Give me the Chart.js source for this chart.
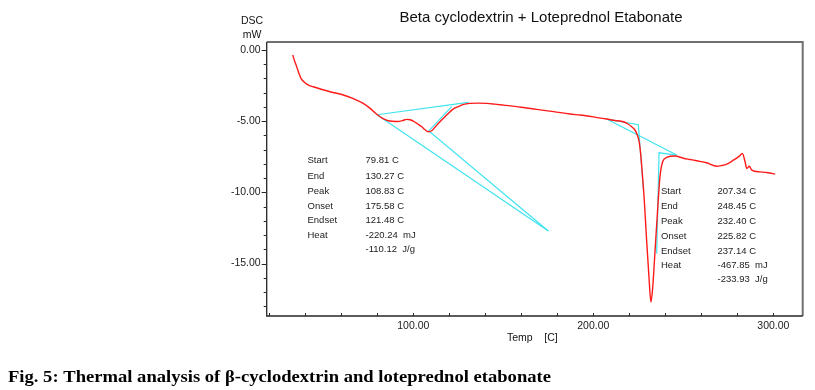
<!DOCTYPE html>
<html>
<head>
<meta charset="utf-8">
<script src="https://cdn.jsdelivr.net/npm/chart.js@4/dist/chart.umd.min.js"></script>
<style>
  html, body { margin: 0; padding: 0; background: #ffffff; }
  #wrap { width: 815px; height: 390px; }
</style>
</head>
<body>
<div id="wrap"><canvas id="c" width="815" height="390"></canvas></div>
<script>
// ---- Data ----
const tempC = [33.0, 34.0, 35.2, 36.5, 37.6, 39.8, 42.0, 44.4, 48.0, 51.9, 56.0, 61.1, 66.0, 72.2, 76.0, 80.2, 83.0, 86.1, 90.8, 94.0, 96.3, 98.2, 100.0, 102.5, 104.7, 106.5, 108.3, 110.2, 112.5, 114.8, 117.5, 120.4, 122.5, 125.0, 128.0, 131.5, 136.0, 140.7, 145.0, 150.0, 160.0, 168.5, 178.0, 187.0, 192.6, 200.0, 207.4, 212.0, 216.7, 219.0, 221.3, 223.0, 224.1, 225.0, 225.6, 226.3, 226.9, 228.3, 229.6, 230.9, 232.0, 233.0, 234.3, 235.7, 237.0, 238.5, 240.7, 245.4, 250.0, 253.7, 257.4, 262.9, 268.5, 271.0, 274.1, 277.8, 281.1, 282.8, 284.3, 285.2, 286.7, 288.0, 292.6, 297.0, 301.0];
const dscMw = [-0.35, -0.75, -1.17, -1.65, -1.99, -2.3, -2.48, -2.58, -2.72, -2.86, -3.0, -3.16, -3.38, -3.75, -4.1, -4.57, -4.8, -4.97, -5.02, -4.96, -4.87, -4.9, -5.0, -5.2, -5.39, -5.6, -5.74, -5.67, -5.35, -5.04, -4.7, -4.34, -4.12, -3.98, -3.82, -3.75, -3.73, -3.75, -3.8, -3.87, -4.02, -4.17, -4.33, -4.5, -4.57, -4.7, -4.85, -4.95, -5.04, -5.18, -5.39, -5.6, -5.86, -6.2, -6.56, -7.3, -8.2, -10.55, -13.36, -15.94, -17.7, -16.64, -14.06, -11.25, -8.91, -7.85, -7.55, -7.45, -7.6, -7.69, -7.78, -7.92, -8.16, -8.12, -8.02, -7.74, -7.45, -7.27, -7.85, -8.32, -8.16, -8.44, -8.56, -8.62, -8.72];

// analysis construction lines (cyan)
const leftBaseT = [79.8, 130.5];        const leftBaseMw = [-4.55, -3.68];
const leftOnsetT = [79.8, 175.0];       const leftOnsetMw = [-4.55, -12.71];
const leftTangentT = [121.3, 108.6, 175.0]; const leftTangentMw = [-3.98, -5.68, -12.71];
const rightBaseT = [207.4, 246.3];      const rightBaseMw = [-4.85, -7.38];
const rightOnsetT = [207.4, 225.0, 227.8]; const rightOnsetMw = [-4.85, -5.25, -9.8];
const rightEndsetT = [235.2, 236.5, 246.3]; const rightEndsetMw = [-14.3, -7.22, -7.38];

// tick labels
const xTickValues = [100, 200, 300];
const yTickValues = [0, -5, -10, -15];
const xMinorTicks = [20, 40, 60, 80, 100, 120, 140, 160, 180, 200, 220, 240, 260, 280, 300];
const yMinorTicks = [0, -1, -2, -3, -4, -5, -6, -7, -8, -9, -10, -11, -12, -13, -14, -15, -16, -17, -18];

// texts
const chartTitle = 'Beta cyclodextrin + Loteprednol Etabonate';
const yUnitLines = ['DSC', 'mW'];
const xAxisTitle = 'Temp    [C]';
const peakLabels = ['Start', 'End', 'Peak', 'Onset', 'Endset', 'Heat', ''];
const leftPeakValues = ['79.81 C', '130.27 C', '108.83 C', '175.58 C', '121.48 C', '-220.24  mJ', '-110.12  J/g'];
const rightPeakValues = ['207.34 C', '248.45 C', '232.40 C', '225.82 C', '237.14 C', '-467.85  mJ', '-233.93  J/g'];
const caption = 'Fig. 5: Thermal analysis of \u03B2-cyclodextrin and loteprednol etabonate';

// ---- build datasets ----
const pts = (xs, ys) => xs.map((x, i) => ({ x: x, y: ys[i] }));
const RED = '#ff1a1a';
const CYAN = '#3fe3ef';
const SANS = '"Liberation Sans", Arial, sans-serif';

const cyanDs = (xs, ys) => ({ data: pts(xs, ys), borderColor: CYAN, borderWidth: 1.2, pointRadius: 0, tension: 0, order: 2 });

const decorPlugin = {
  id: 'decor',
  afterDraw(chart) {
    const ctx = chart.ctx;
    const a = chart.chartArea;
    const xs = chart.scales.x, ys = chart.scales.y;
    ctx.save();
    // frame
    ctx.strokeStyle = '#707070';
    ctx.lineWidth = 2;
    ctx.beginPath();
    ctx.moveTo(a.left, a.top); ctx.lineTo(a.right, a.top); ctx.lineTo(a.right, a.bottom);
    ctx.stroke();
    ctx.strokeStyle = '#262626';
    ctx.lineWidth = 1.3;
    ctx.beginPath();
    ctx.moveTo(a.left, a.top); ctx.lineTo(a.left, a.bottom); ctx.lineTo(a.right, a.bottom);
    ctx.stroke();
    // tick marks
    ctx.lineWidth = 1;
    ctx.strokeStyle = '#262626';
    ctx.beginPath();
    yMinorTicks.forEach(v => {
      const py = Math.round(ys.getPixelForValue(v)) + 0.5;
      const len = (v % 5 === 0) ? 5 : 3;
      ctx.moveTo(a.left - len, py); ctx.lineTo(a.left, py);
    });
    xMinorTicks.forEach(v => {
      const px = Math.round(xs.getPixelForValue(v)) + 0.5;
      ctx.moveTo(px, a.bottom); ctx.lineTo(px, a.bottom - 3);
    });
    ctx.stroke();

    // title
    ctx.fillStyle = '#111';
    ctx.textBaseline = 'middle';
    ctx.textAlign = 'center';
    ctx.font = '15px ' + SANS;
    ctx.fillText(chartTitle, 541, 18);
    // y unit
    ctx.font = '10.5px ' + SANS;
    ctx.fillText(yUnitLines[0], 252, 21);
    ctx.fillText(yUnitLines[1], 252, 35);
    // x title
    ctx.textAlign = 'left';
    ctx.fillText(xAxisTitle, 507, 338);

    // annotation blocks
    ctx.font = '9.5px ' + SANS;
    ctx.fillStyle = '#222';
    const leftRows = [160.7, 176, 191, 206, 220.3, 235, 249.3];
    const rightRows = [191.7, 206.3, 221.3, 236, 251, 265.7, 279.7];
    peakLabels.forEach((t, i) => {
      ctx.fillText(t, 307.5, leftRows[i]);
      ctx.fillText(leftPeakValues[i], 365.5, leftRows[i]);
      ctx.fillText(t, 661, rightRows[i]);
      ctx.fillText(rightPeakValues[i], 717.5, rightRows[i]);
    });

    // caption (bold serif, condensed)
    ctx.font = 'bold 17px "Liberation Serif", "Times New Roman", serif';
    ctx.fillStyle = '#000';
    ctx.textBaseline = 'alphabetic';
    const w = ctx.measureText(caption).width;
    const targetW = 543;
    ctx.translate(8, 382);
    ctx.scale(targetW / w, 1);
    ctx.fillText(caption, 0, 0);
    ctx.restore();
  }
};

new Chart(document.getElementById('c'), {
  type: 'line',
  data: {
    datasets: [
      { data: pts(tempC, dscMw), borderColor: RED, borderWidth: 1.4, pointRadius: 0, cubicInterpolationMode: 'monotone', order: 1 },
      cyanDs(leftBaseT, leftBaseMw),
      cyanDs(leftOnsetT, leftOnsetMw),
      cyanDs(leftTangentT, leftTangentMw),
      cyanDs(rightBaseT, rightBaseMw),
      cyanDs(rightOnsetT, rightOnsetMw),
      cyanDs(rightEndsetT, rightEndsetMw)
    ]
  },
  options: {
    responsive: false,
    animation: false,
    devicePixelRatio: 1,
    layout: { padding: { top: 42, right: 12.3, bottom: 0, left: 0 } },
    plugins: { legend: { display: false }, title: { display: false }, tooltip: { enabled: false } },
    scales: {
      x: {
        type: 'linear', min: 18.56, max: 316.3,
        afterBuildTicks: s => { s.ticks = xTickValues.map(v => ({ value: v })); },
        afterFit: s => { s.height = 74; },
        grid: { display: false, drawTicks: false },
        border: { display: false },
        ticks: { font: { family: SANS, size: 10.5 }, color: '#222', padding: 4, maxRotation: 0,
                  callback: v => Number(v).toFixed(2) }
      },
      y: {
        type: 'linear', min: -18.68, max: 0.56,
        afterBuildTicks: s => { s.ticks = yTickValues.map(v => ({ value: v })); },
        afterFit: s => { s.width = 266.7; },
        grid: { display: false, drawTicks: false },
        border: { display: false },
        ticks: { font: { family: SANS, size: 10.5 }, color: '#222', padding: 6,
                  callback: v => Number(v).toFixed(2) }
      }
    }
  },
  plugins: [decorPlugin]
});
</script>
</body>
</html>
